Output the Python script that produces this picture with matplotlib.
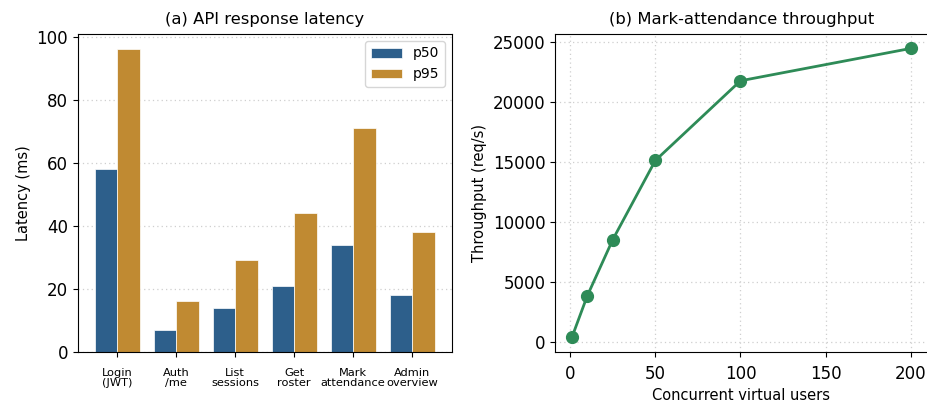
import matplotlib
matplotlib.use("Agg")
import matplotlib.pyplot as plt
import numpy as np

categories = ["Login\n(JWT)", "Auth\n/me", "List\nsessions", "Get\nroster", "Mark\nattendance", "Admin\noverview"]
p50 = [58, 7, 14, 21, 34, 18]
p95 = [96, 16, 29, 44, 71, 38]

users = [1, 10, 25, 50, 100, 200]
throughput = [400, 3850, 8550, 15150, 21800, 24500]

W, H = 927, 405
fig = plt.figure(figsize=(W / 100, H / 100), dpi=100)

def ax_at(l, t, r, b):
    return fig.add_axes([l / W, 1 - b / H, (r - l) / W, (b - t) / H])

ax1 = ax_at(77.7, 34, 451.7, 351.7)
ax2 = ax_at(555, 34, 927.6, 351.7)

blue = "#2d5f8b"
gold = "#c08a32"
green = "#2e8b57"
grid_kw = dict(linestyle=(0, (1, 2.5)), color="#cfcfcf", linewidth=0.9)

x = np.arange(len(categories))
w = 0.38
ax1.bar(x - w / 2, p50, w, color=blue, edgecolor="white", linewidth=0.5, label="p50")
ax1.bar(x + w / 2, p95, w, color=gold, edgecolor="white", linewidth=0.5, label="p95")
ax1.set_xticks(x)
ax1.set_xticklabels(categories, fontsize=8.2, linespacing=1.0)
ax1.tick_params(axis="x", pad=8)
ax1.set_ylabel("Latency (ms)", fontsize=10.5)
ax1.set_title("(a) API response latency", fontsize=11.8, pad=7)
ax1.tick_params(axis="y", labelsize=12)
ax1.set_yticks([0, 20, 40, 60, 80, 100])
ax1.yaxis.grid(True, **grid_kw)
ax1.set_axisbelow(True)
ax1.legend(loc="upper right", fontsize=10, handlelength=2.2)

ax2.plot(users, throughput, color=green, linewidth=2, marker="o", markersize=8.5)
ax2.set_xlabel("Concurrent virtual users", fontsize=10.5)
ax2.set_ylabel("Throughput (req/s)", fontsize=10.5)
ax2.set_title("(b) Mark-attendance throughput", fontsize=11.8, pad=7)
ax2.tick_params(labelsize=12)
ax2.tick_params(axis="x", pad=6)
ax2.set_xticks([0, 50, 100, 150, 200])
ax2.grid(True, **grid_kw)
ax2.set_axisbelow(True)

fig.savefig("out.png", dpi=100)
